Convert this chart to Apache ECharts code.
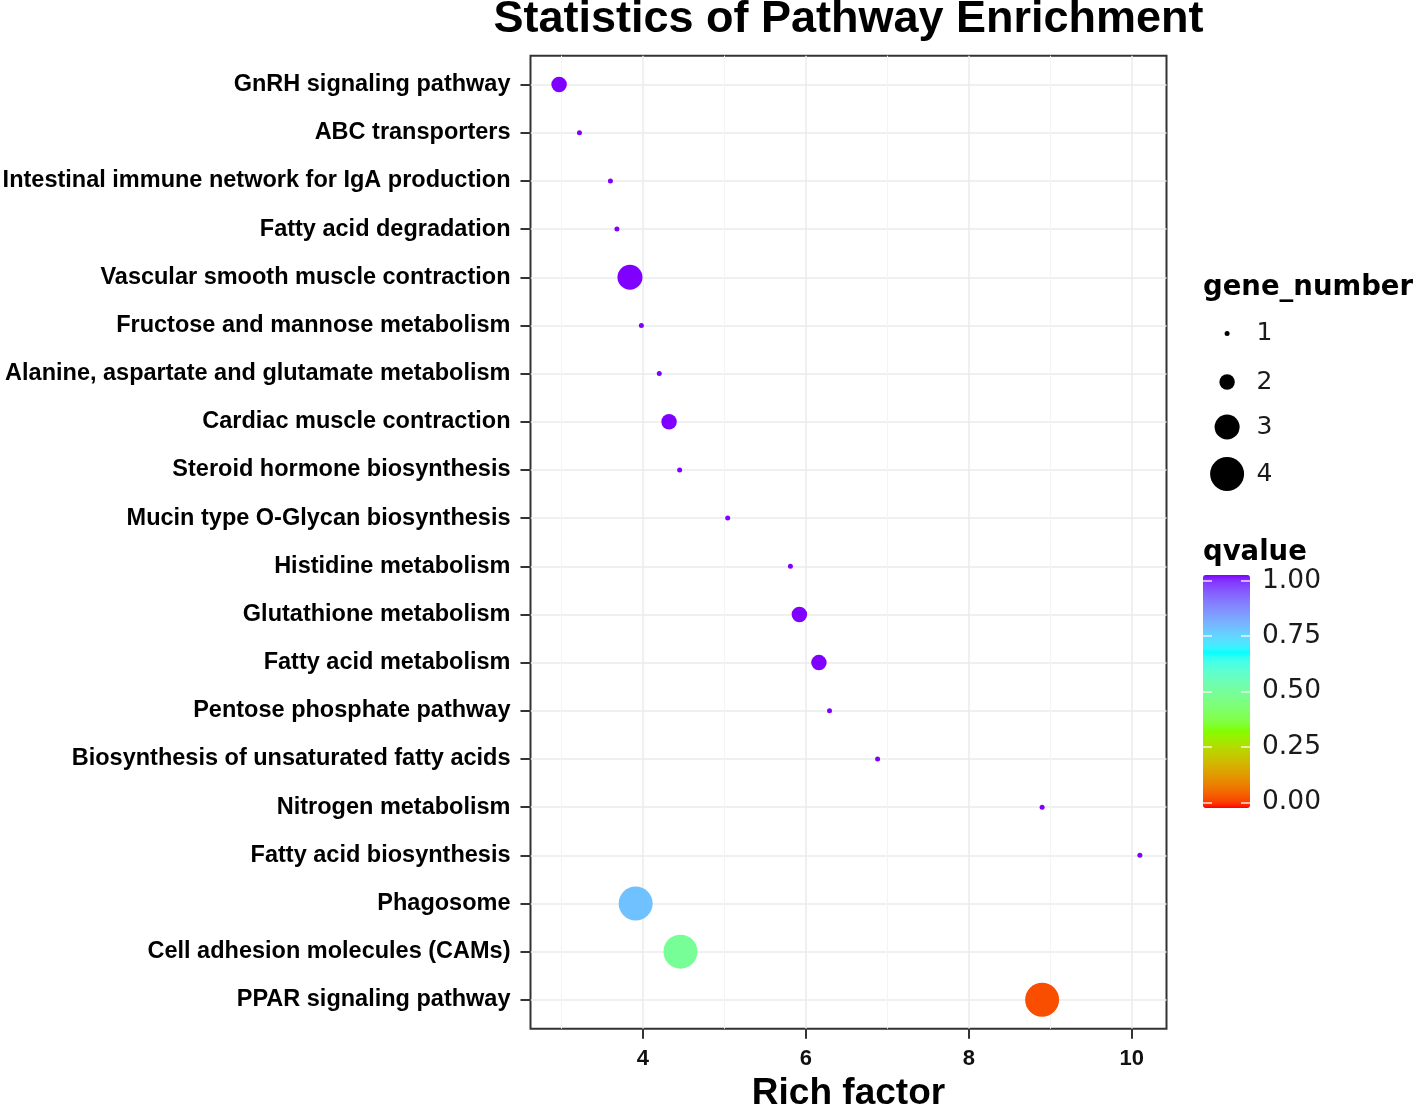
<!DOCTYPE html>
<html>
<head>
<meta charset="utf-8">
<script src="https://cdn.jsdelivr.net/npm/echarts@6/dist/echarts.min.js"></script>
<style>html,body{margin:0;padding:0;background:#fff}#chart{width:1418px;height:1106px}</style>
</head>
<body>
<div id="chart"></div>
<script>
// ---------- data ----------
const pathways = [
  'GnRH signaling pathway',
  'ABC transporters',
  'Intestinal immune network for IgA production',
  'Fatty acid degradation',
  'Vascular smooth muscle contraction',
  'Fructose and mannose metabolism',
  'Alanine, aspartate and glutamate metabolism',
  'Cardiac muscle contraction',
  'Steroid hormone biosynthesis',
  'Mucin type O-Glycan biosynthesis',
  'Histidine metabolism',
  'Glutathione metabolism',
  'Fatty acid metabolism',
  'Pentose phosphate pathway',
  'Biosynthesis of unsaturated fatty acids',
  'Nitrogen metabolism',
  'Fatty acid biosynthesis',
  'Phagosome',
  'Cell adhesion molecules (CAMs)',
  'PPAR signaling pathway'
];
const richFactor = [2.97, 3.22, 3.60, 3.68, 3.84, 3.98, 4.20, 4.32, 4.45, 5.04,
                    5.81, 5.92, 6.16, 6.29, 6.88, 8.90, 10.10, 3.91, 4.46, 8.90];
const geneNumber = [2, 1, 1, 1, 3, 1, 1, 2, 1, 1,
                    1, 2, 2, 1, 1, 1, 1, 4, 4, 4];
const qvalue = [1, 1, 1, 1, 1, 1, 1, 1, 1, 1,
                1, 1, 1, 1, 1, 1, 1, 0.77, 0.49, 0.04];
const xTicks = [4, 6, 8, 10];
const xMinorTicks = [3, 5, 7, 9];
const sizeLevels = [1, 2, 3, 4];
const qTicks = [0, 0.25, 0.5, 0.75, 1];

// ---------- styling ----------
const dotSize = {1: 5, 2: 15.5, 3: 25, 4: 34};
const legendY = {1: 333.5, 2: 382, 3: 427, 4: 474};
const LEG_BOX = 49;          // width of the legend key box
const LEG_BOX_LEFT = 1202.6; // left edge of the key box
const SANS = 'Liberation Sans, Arial, Helvetica, sans-serif';
const WIDE = 'DejaVu Sans, sans-serif';

// rainbow(4) colours interpolated in CIE Lab (like ggplot gradientn)
const stops = ['#FF0000', '#80FF00', '#00FFFF', '#8000FF'];
function hex2rgb(h){return [1,3,5].map(i=>parseInt(h.substr(i,2),16)/255);}
function lin(c){return c<=0.04045?c/12.92:Math.pow((c+0.055)/1.055,2.4);}
function delin(c){return c<=0.0031308?12.92*c:1.055*Math.pow(c,1/2.4)-0.055;}
function rgb2lab(rgb){
  const [r,g,b]=rgb.map(lin);
  const X=(0.4124*r+0.3576*g+0.1805*b)/0.95047, Y=(0.2126*r+0.7152*g+0.0722*b), Z=(0.0193*r+0.1192*g+0.9505*b)/1.08883;
  const f=t=>t>0.008856?Math.cbrt(t):7.787*t+16/116;
  const fx=f(X),fy=f(Y),fz=f(Z);
  return [116*fy-16,500*(fx-fy),200*(fy-fz)];
}
function lab2hex(lab){
  const fy=(lab[0]+16)/116, fx=fy+lab[1]/500, fz=fy-lab[2]/200;
  const fi=t=>t>0.206893?t*t*t:(t-16/116)/7.787;
  const X=fi(fx)*0.95047, Y=fi(fy), Z=fi(fz)*1.08883;
  const r=3.2406*X-1.5372*Y-0.4986*Z, g=-0.9689*X+1.8758*Y+0.0415*Z, b=0.0557*X-0.2040*Y+1.0570*Z;
  return '#'+[r,g,b].map(c=>{
    const v=Math.round(Math.min(1,Math.max(0,delin(Math.min(1,Math.max(0,c)))))*255);
    return v.toString(16).padStart(2,'0');
  }).join('');
}
const labStops = stops.map(h=>rgb2lab(hex2rgb(h)));
const gradient = [];
for (let k=0;k<=60;k++){
  const t=k/60*3, s=Math.min(2,Math.floor(t)), u=t-s;
  const a=labStops[s], b=labStops[s+1];
  gradient.push(lab2hex([0,1,2].map(j=>a[j]+(b[j]-a[j])*u)));
}

// ---------- series (one per gene_number level) ----------
const series = sizeLevels.map(n => ({
  name: String(n),
  type: 'scatter',
  xAxisIndex: 0, yAxisIndex: 0,
  symbol: 'circle',
  symbolSize: dotSize[n],
  itemStyle: {opacity: 1},
  emphasis: {disabled: true},
  data: pathways.map((p, i) => [richFactor[i], i, qvalue[i], geneNumber[i]])
                .filter(d => d[3] === n)
}));

// one legend per size level so each key can have its own circle size
const sizeLegends = sizeLevels.map(n => ({
  data: [String(n)],
  orient: 'vertical',
  left: LEG_BOX_LEFT + (LEG_BOX - dotSize[n]) / 2,
  top: legendY[n] - Math.max(dotSize[n], 25) / 2,
  padding: 0,
  itemWidth: LEG_BOX,
  itemHeight: dotSize[n],
  icon: 'circle',
  itemStyle: {color: '#000'},
  selectedMode: false,
  textStyle: {fontFamily: WIDE, fontSize: 25, color: '#1a1a1a'}
}));

const catIdx = pathways.map((p, i) => i);

const option = {
  animation: false,
  backgroundColor: '#fff',
  title: [
    {text: 'Statistics of Pathway Enrichment', left: 848.5, textAlign: 'center', top: -3, padding: 0,
     textStyle: {fontFamily: SANS, fontWeight: 'bold', fontSize: 45, color: '#000'}},
    {text: 'gene_number', left: 1203, top: 274, padding: 0,
     textStyle: {fontFamily: WIDE, fontWeight: 'bold', fontSize: 27.5, color: '#000'}},
    {text: 'qvalue', left: 1203, top: 539, padding: 0,
     textStyle: {fontFamily: WIDE, fontWeight: 'bold', fontSize: 27.5, color: '#000'}}
  ],
  legend: sizeLegends,
  grid: [
    {left: 530.5, top: 55.7, right: 1418 - 1166.5, bottom: 1106 - 1028.7,
     show: true, borderColor: '#333', borderWidth: 2, backgroundColor: 'transparent',
     containLabel: false, outerBoundsMode: 'none'},
    {left: 1203, top: 580.8, width: 47, height: 221.6, show: false,
     containLabel: false, outerBoundsMode: 'none'}
  ],
  xAxis: [
    {type: 'value', gridIndex: 0, position: 'bottom', min: 2.619, max: 10.427,
     axisLine: {show: false, onZero: false},
     axisTick: {show: true, length: 10, customValues: xTicks, lineStyle: {color: '#333', width: 2}},
     axisLabel: {customValues: xTicks, margin: 19, fontFamily: SANS, fontWeight: 'bold', fontSize: 22, color: '#111'},
     splitLine: {show: true, lineStyle: {color: '#EBEBEB', width: 1.5}},
     name: 'Rich factor', nameLocation: 'middle', nameGap: 47,
     nameTextStyle: {fontFamily: SANS, fontWeight: 'bold', fontSize: 37, color: '#000'}},
    {type: 'value', gridIndex: 0, position: 'top', min: 2.619, max: 10.427,
     axisLine: {show: false, onZero: false},
     axisTick: {show: false, customValues: xMinorTicks},
     axisLabel: {show: false, customValues: xMinorTicks},
     splitLine: {show: true, lineStyle: {color: '#F4F4F4', width: 1}}},
    {type: 'value', gridIndex: 1, show: false, min: 0, max: 1, axisLine: {onZero: false}}
  ],
  yAxis: [
    {type: 'value', gridIndex: 0, inverse: true, min: -0.6, max: 19.6,
     axisLine: {show: false, onZero: false},
     axisTick: {show: true, length: 10, customValues: catIdx, lineStyle: {color: '#333', width: 2}},
     axisLabel: {customValues: catIdx, margin: 20, formatter: v => pathways[Math.round(v)],
                 fontFamily: SANS, fontWeight: 'bold', fontSize: 23.5, color: '#000'},
     splitLine: {show: true, lineStyle: {color: '#EBEBEB', width: 1.5}}},
    {type: 'value', gridIndex: 1, position: 'right', min: 0, max: 1, z: 10,
     axisLine: {show: false, onZero: false},
     axisTick: {show: true, inside: true, length: 9, customValues: qTicks, lineStyle: {color: 'rgba(255,255,255,0.85)', width: 1.5}},
     axisLabel: {customValues: qTicks, margin: 12, formatter: v => v.toFixed(2),
                 fontFamily: WIDE, fontSize: 26.5, color: '#1a1a1a'},
     splitLine: {show: false}},
    {type: 'value', gridIndex: 1, position: 'left', min: 0, max: 1, z: 10,
     axisLine: {show: false, onZero: false},
     axisTick: {show: true, inside: true, length: 9, customValues: qTicks, lineStyle: {color: 'rgba(255,255,255,0.85)', width: 1.5}},
     axisLabel: {show: false, customValues: qTicks},
     splitLine: {show: false}}
  ],
  visualMap: {
    type: 'continuous',
    min: 0, max: 1,
    dimension: 2,
    seriesIndex: [0, 1, 2, 3],
    calculable: false,
    hoverLink: false,
    left: 1203, top: 575,
    padding: 0,
    itemWidth: 47, itemHeight: 233,
    text: null,
    inRange: {color: gradient}
  },
  series: series
};

const chart = echarts.init(document.getElementById('chart'), null, {renderer: 'canvas'});
chart.setOption(option);
</script>
</body>
</html>
